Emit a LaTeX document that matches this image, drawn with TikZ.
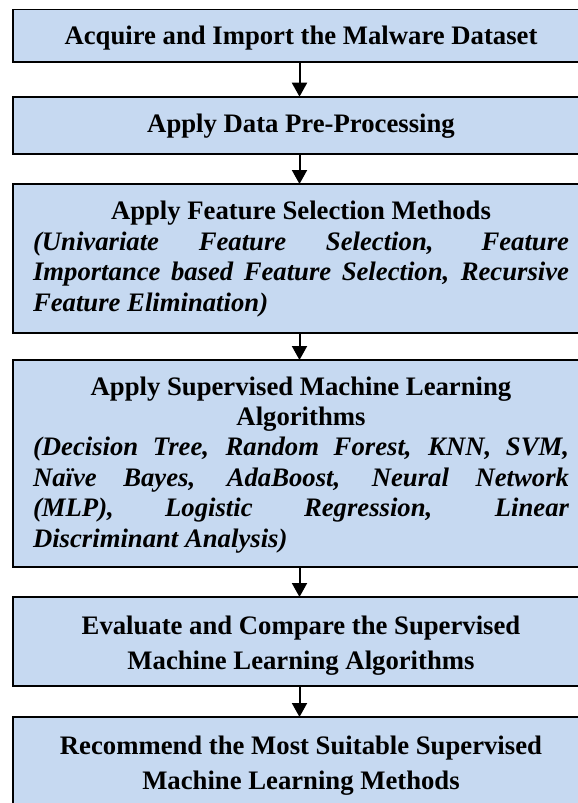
\documentclass[tikz,border=0pt]{standalone}
\usepackage{fontspec}
\setmainfont{Liberation Serif}
\usetikzlibrary{arrows.meta}
\definecolor{boxblue}{HTML}{C6D9F1}
\newcommand{\boxfont}[1]{\fontsize{26.7}{#1}\selectfont\bfseries\hyphenpenalty=10000 }
\begin{document}
\begin{tikzpicture}[x=1pt,y=-1pt,
  stepbox/.style={draw=black, line width=1.8pt, fill=boxblue, anchor=north west,
    minimum width=600pt, inner sep=0pt, outer sep=0pt},
  txtnode/.style={anchor=base, inner sep=0pt, outer sep=0pt},
  flow/.style={line width=2pt, -{Triangle[width=15pt,length=14pt]}}]
\useasboundingbox (0,0) rectangle (578,803);
\clip (0,0) rectangle (578,803);
\coordinate (ax) at (299.5,0);
% boxes
\node[stepbox, minimum height=52.2pt] (b1) at (13,9.5) {};
\node[stepbox, minimum height=57.3pt] (b2) at (13,96.7) {};
\node[stepbox, minimum height=149.3pt] (b3) at (13,184) {};
\node[stepbox, minimum height=207pt] (b4) at (13,360) {};
\node[stepbox, minimum height=89pt] (b5) at (13,597) {};
\node[stepbox, minimum height=98pt] (b6) at (13,717) {};
% texts
\node[txtnode] (t1) at (301,44.5) {\parbox[t]{536pt}{\boxfont{30}\centering Acquire and Import the Malware Dataset}};
\node[txtnode] (t2) at (301,132.7) {\parbox[t]{536pt}{\boxfont{30}\centering Apply Data Pre-Processing}};
\node[txtnode] (t3) at (301,219.3) {\parbox[t]{536pt}{\boxfont{30.7}{\centering Apply Feature Selection Methods\par}\itshape (Univariate Feature Selection, Feature\linebreak Importance based Feature Selection, Recursive\linebreak Feature Elimination)}};
\node[txtnode] (t4) at (301,395) {\parbox[t]{536pt}{\boxfont{30.4}{\centering Apply Supervised Machine Learning\\ Algorithms\par}\itshape (Decision Tree, Random Forest, KNN, SVM,\linebreak Naïve Bayes, AdaBoost, Neural Network\linebreak (MLP), Logistic Regression, Linear\linebreak Discriminant Analysis)}};
\node[txtnode] (t5) at (301,634) {\parbox[t]{536pt}{\boxfont{35}\centering Evaluate and Compare the Supervised\\ Machine Learning Algorithms}};
\node[txtnode] (t6) at (301,754) {\parbox[t]{536pt}{\boxfont{35}\centering Recommend the Most Suitable Supervised\\ Machine Learning Methods}};
% connectors
\draw[flow] (b1.south -| ax) -- (b2.north -| ax);
\draw[flow] (b2.south -| ax) -- (b3.north -| ax);
\draw[flow] (b3.south -| ax) -- (b4.north -| ax);
\draw[flow] (b4.south -| ax) -- (b5.north -| ax);
\draw[flow] (b5.south -| ax) -- (b6.north -| ax);
\end{tikzpicture}
\end{document}
